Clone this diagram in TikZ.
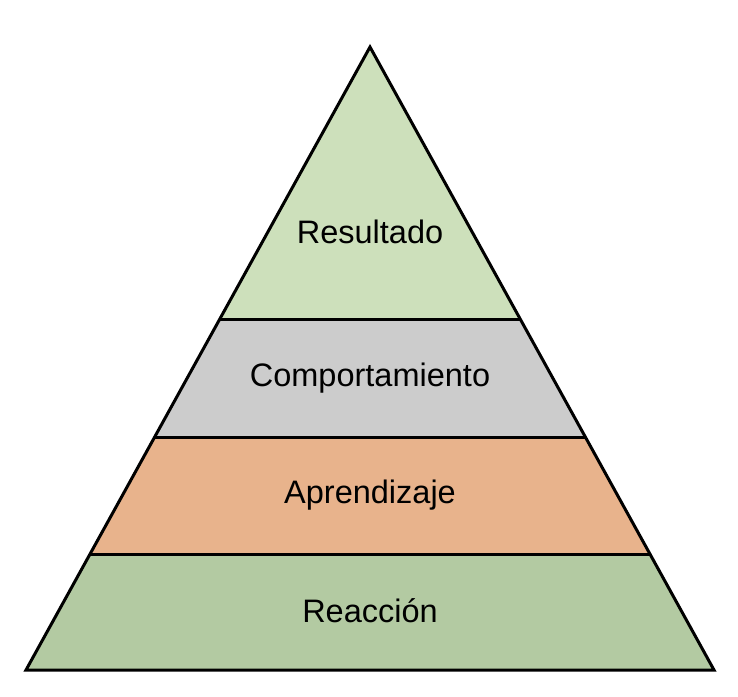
\documentclass[tikz,border=0pt]{standalone}
\usepackage{fontspec}
\setmainfont{Liberation Sans}
\definecolor{topgreen}{HTML}{CDE0BB}
\definecolor{midgray}{HTML}{CCCCCC}
\definecolor{orangel}{HTML}{E8B38C}
\definecolor{botgreen}{HTML}{B3CAA2}
\tikzset{
  layer/.style={draw=black, line width=3pt, line join=miter},
  lbl/.style={font=\fontsize{32.5}{36}\selectfont, text=black, inner sep=0pt}
}
\begin{document}
\begin{tikzpicture}[x=1pt,y=-1pt]
\useasboundingbox (0,0) rectangle (738,696);
% key points
\coordinate (A) at (370,47);
\coordinate (L1) at (220,319); \coordinate (R1) at (520,319);
\coordinate (L2) at (155,437); \coordinate (R2) at (585,437);
\coordinate (L3) at (90,554);  \coordinate (R3) at (650,554);
\coordinate (L4) at (26,670);  \coordinate (R4) at (714,670);
% fills
\fill[topgreen] (A) -- (L1) -- (R1) -- cycle;
\fill[midgray] (L1) -- (L2) -- (R2) -- (R1) -- cycle;
\fill[orangel] (L2) -- (L3) -- (R3) -- (R2) -- cycle;
\fill[botgreen] (L3) -- (L4) -- (R4) -- (R3) -- cycle;
% outlines
\draw[layer] (A) -- (L4) -- (R4) -- cycle;
\draw[layer] (L1) -- (R1);
\draw[layer] (L2) -- (R2);
\draw[layer] (L3) -- (R3);
% labels
\node[lbl] (t1) at (370,232) {Resultado};
\node[lbl] (t2) at (370,378) {Comportamiento};
\node[lbl] (t3) at (370,495) {Aprendizaje};
\node[lbl] (t4) at (370,611) {Reacción};
\end{tikzpicture}
\end{document}
